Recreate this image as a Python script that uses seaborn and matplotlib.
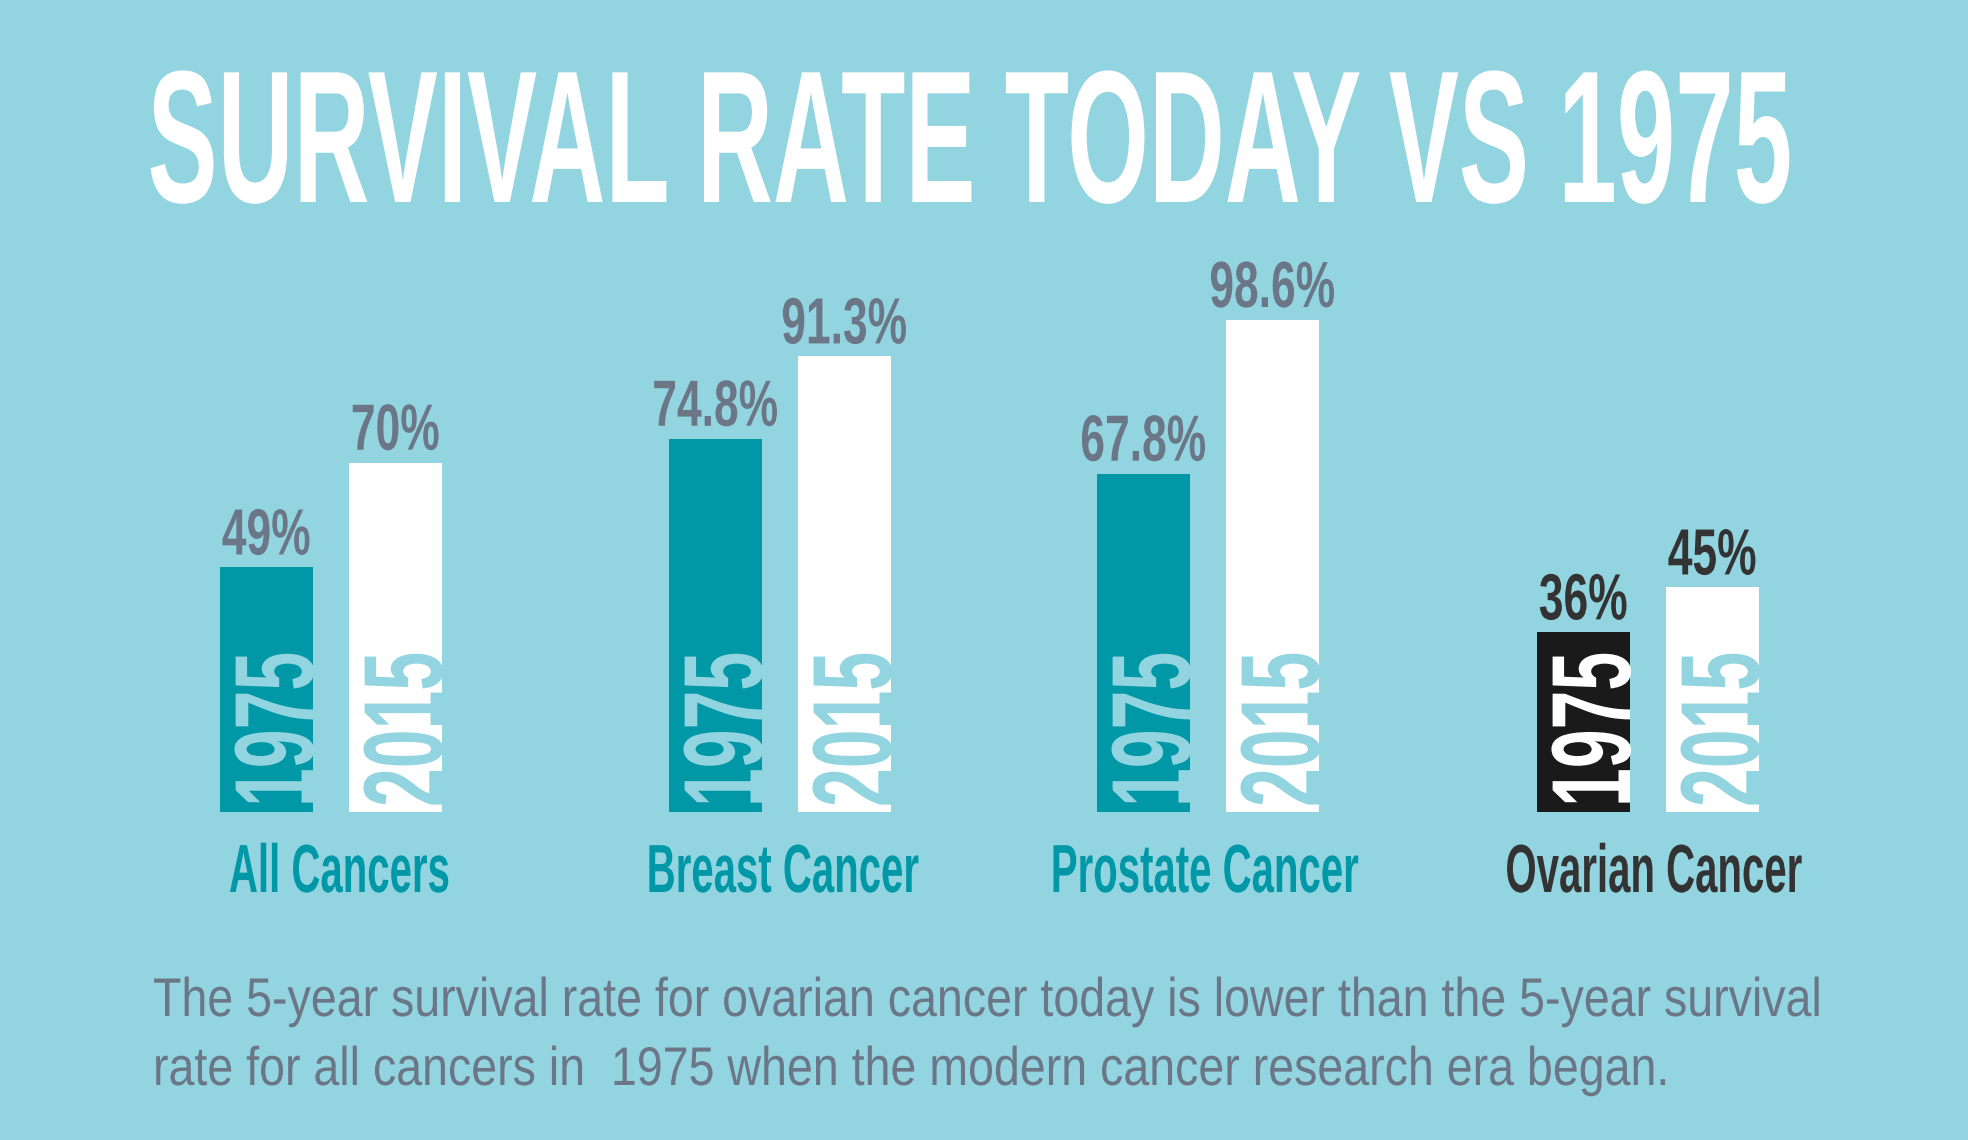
import pandas as pd
import matplotlib
matplotlib.use("Agg")
import matplotlib.pyplot as plt
import matplotlib.patheffects as pe
from matplotlib.transforms import Affine2D
import seaborn as sns

# =====================================
# Data
# =====================================

cancers = ["All Cancers", "Breast Cancer", "Prostate Cancer", "Ovarian Cancer"]
years = ["1975", "2015"]
rate_1975 = [49, 74.8, 67.8, 36]
rate_2015 = [70, 91.3, 98.6, 45]
highlight = "Ovarian Cancer"

title = "SURVIVAL RATE TODAY VS 1975"
caption_lines = [
    "The 5-year survival rate for ovarian cancer today is lower than the 5-year survival",
    "rate for all cancers in  1975 when the modern cancer research era began.",
]

# =====================================
# Style
# =====================================

BG = "#92D5E0"
TEAL = "#0097A7"
SLATE = "#6B7687"
DARK = "#333333"
BLACK = "#1A1A1A"
WHITE = "#FFFFFF"

sns.set_style("white")
plt.rcParams["font.family"] = ["Liberation Sans", "DejaVu Sans"]

W, H = 1968, 1140
group_x = [331, 780, 1208, 1648]   # pixel centres of each pair
label_x = [340, 783, 1205, 1654]   # centres of the category names
half_gap = 64.5
bar_w = 93


class Squeeze(pe.AbstractPathEffect):
    """Draw text narrower along its baseline (fake condensed face)."""

    def __init__(self, sx, anchor="center", stroke=0):
        super().__init__()
        self.sx = sx
        self.anchor = anchor
        self.stroke = stroke

    def draw_path(self, renderer, gc, tpath, affine, rgbFace=None):
        xs = tpath.vertices[:, 0]
        cx = 0.0 if self.anchor == "left" else (xs.min() + xs.max()) / 2
        squeeze = Affine2D().translate(-cx, 0).scale(self.sx, 1).translate(cx, 0)
        gc0 = renderer.new_gc()
        gc0.copy_properties(gc)
        if self.stroke:
            gc0.set_linewidth(self.stroke)
            gc0.set_foreground(rgbFace)
        renderer.draw_path(gc0, tpath, squeeze + affine, rgbFace)
        gc0.restore()


# =====================================
# Long table for seaborn
# =====================================

rows = []
for i, cancer in enumerate(cancers):
    for year, rates, off in [("1975", rate_1975, -half_gap), ("2015", rate_2015, half_gap)]:
        if year == "2015":
            color = WHITE
        else:
            color = BLACK if cancer == highlight else TEAL
        rows.append({
            "cancer": cancer,
            "year": year,
            "rate": rates[i],
            "x": group_x[i] + off,
            "key": cancer + " " + year,
            "color": color,
        })
df = pd.DataFrame(rows)
palette = dict(zip(df["key"], df["color"]))

# =====================================
# Figure
# =====================================

fig = plt.figure(figsize=(W / 100, H / 100), dpi=100, facecolor=BG)
bottom_px = 328
ax = fig.add_axes([0, bottom_px / H, 1, 499 / H])

sns.barplot(
    data=df, x="x", y="rate", hue="key", palette=palette,
    native_scale=True, dodge=False, width=bar_w / (2 * half_gap),
    saturation=1, linewidth=0, errorbar=None, legend=False, ax=ax,
)
ax.set_xlim(0, W)
ax.set_ylim(0, 100)
ax.set_axis_off()

px = 0.72  # pixels -> points at 100 dpi

for _, r in df.iterrows():
    label_color = DARK if r["cancer"] == highlight else SLATE
    ax.annotate(
        f"{r['rate']:g}%", (r["x"], r["rate"]),
        xytext=(0, 13 * px), textcoords="offset points",
        ha="center", va="baseline", fontsize=47, fontweight="bold",
        color=label_color, annotation_clip=False,
        path_effects=[Squeeze(0.68)],
    )
    year_color = WHITE if r["color"] == BLACK else BG
    ax.annotate(
        r["year"], (r["x"] + bar_w / 2, 0),
        xytext=(0, 5 * px), textcoords="offset points",
        rotation=90, rotation_mode="anchor", ha="left", va="baseline",
        fontsize=81, fontweight="bold", color=year_color,
        annotation_clip=False, path_effects=[Squeeze(0.62, anchor="left")],
    )

for cx, cancer in zip(label_x, cancers):
    ax.annotate(
        cancer, (cx, 0), xytext=(0, -80 * px), textcoords="offset points",
        ha="center", va="baseline", fontsize=49, fontweight="bold",
        color=DARK if cancer == highlight else TEAL, annotation_clip=False,
        path_effects=[Squeeze(0.59)],
    )

# Title
fig.text(971 / W, 1 - 202 / H, title, ha="center", va="baseline",
         fontsize=135.7, fontweight="bold", color=WHITE,
         path_effects=[Squeeze(0.558)])

# Caption
for line, base in zip(caption_lines, [1016, 1085]):
    fig.text(153 / W, 1 - base / H, line, ha="left", va="baseline",
             fontsize=39.2, color=SLATE,
             path_effects=[Squeeze(0.855, anchor="left")])

fig.savefig("out.png", dpi=100, facecolor=BG)
